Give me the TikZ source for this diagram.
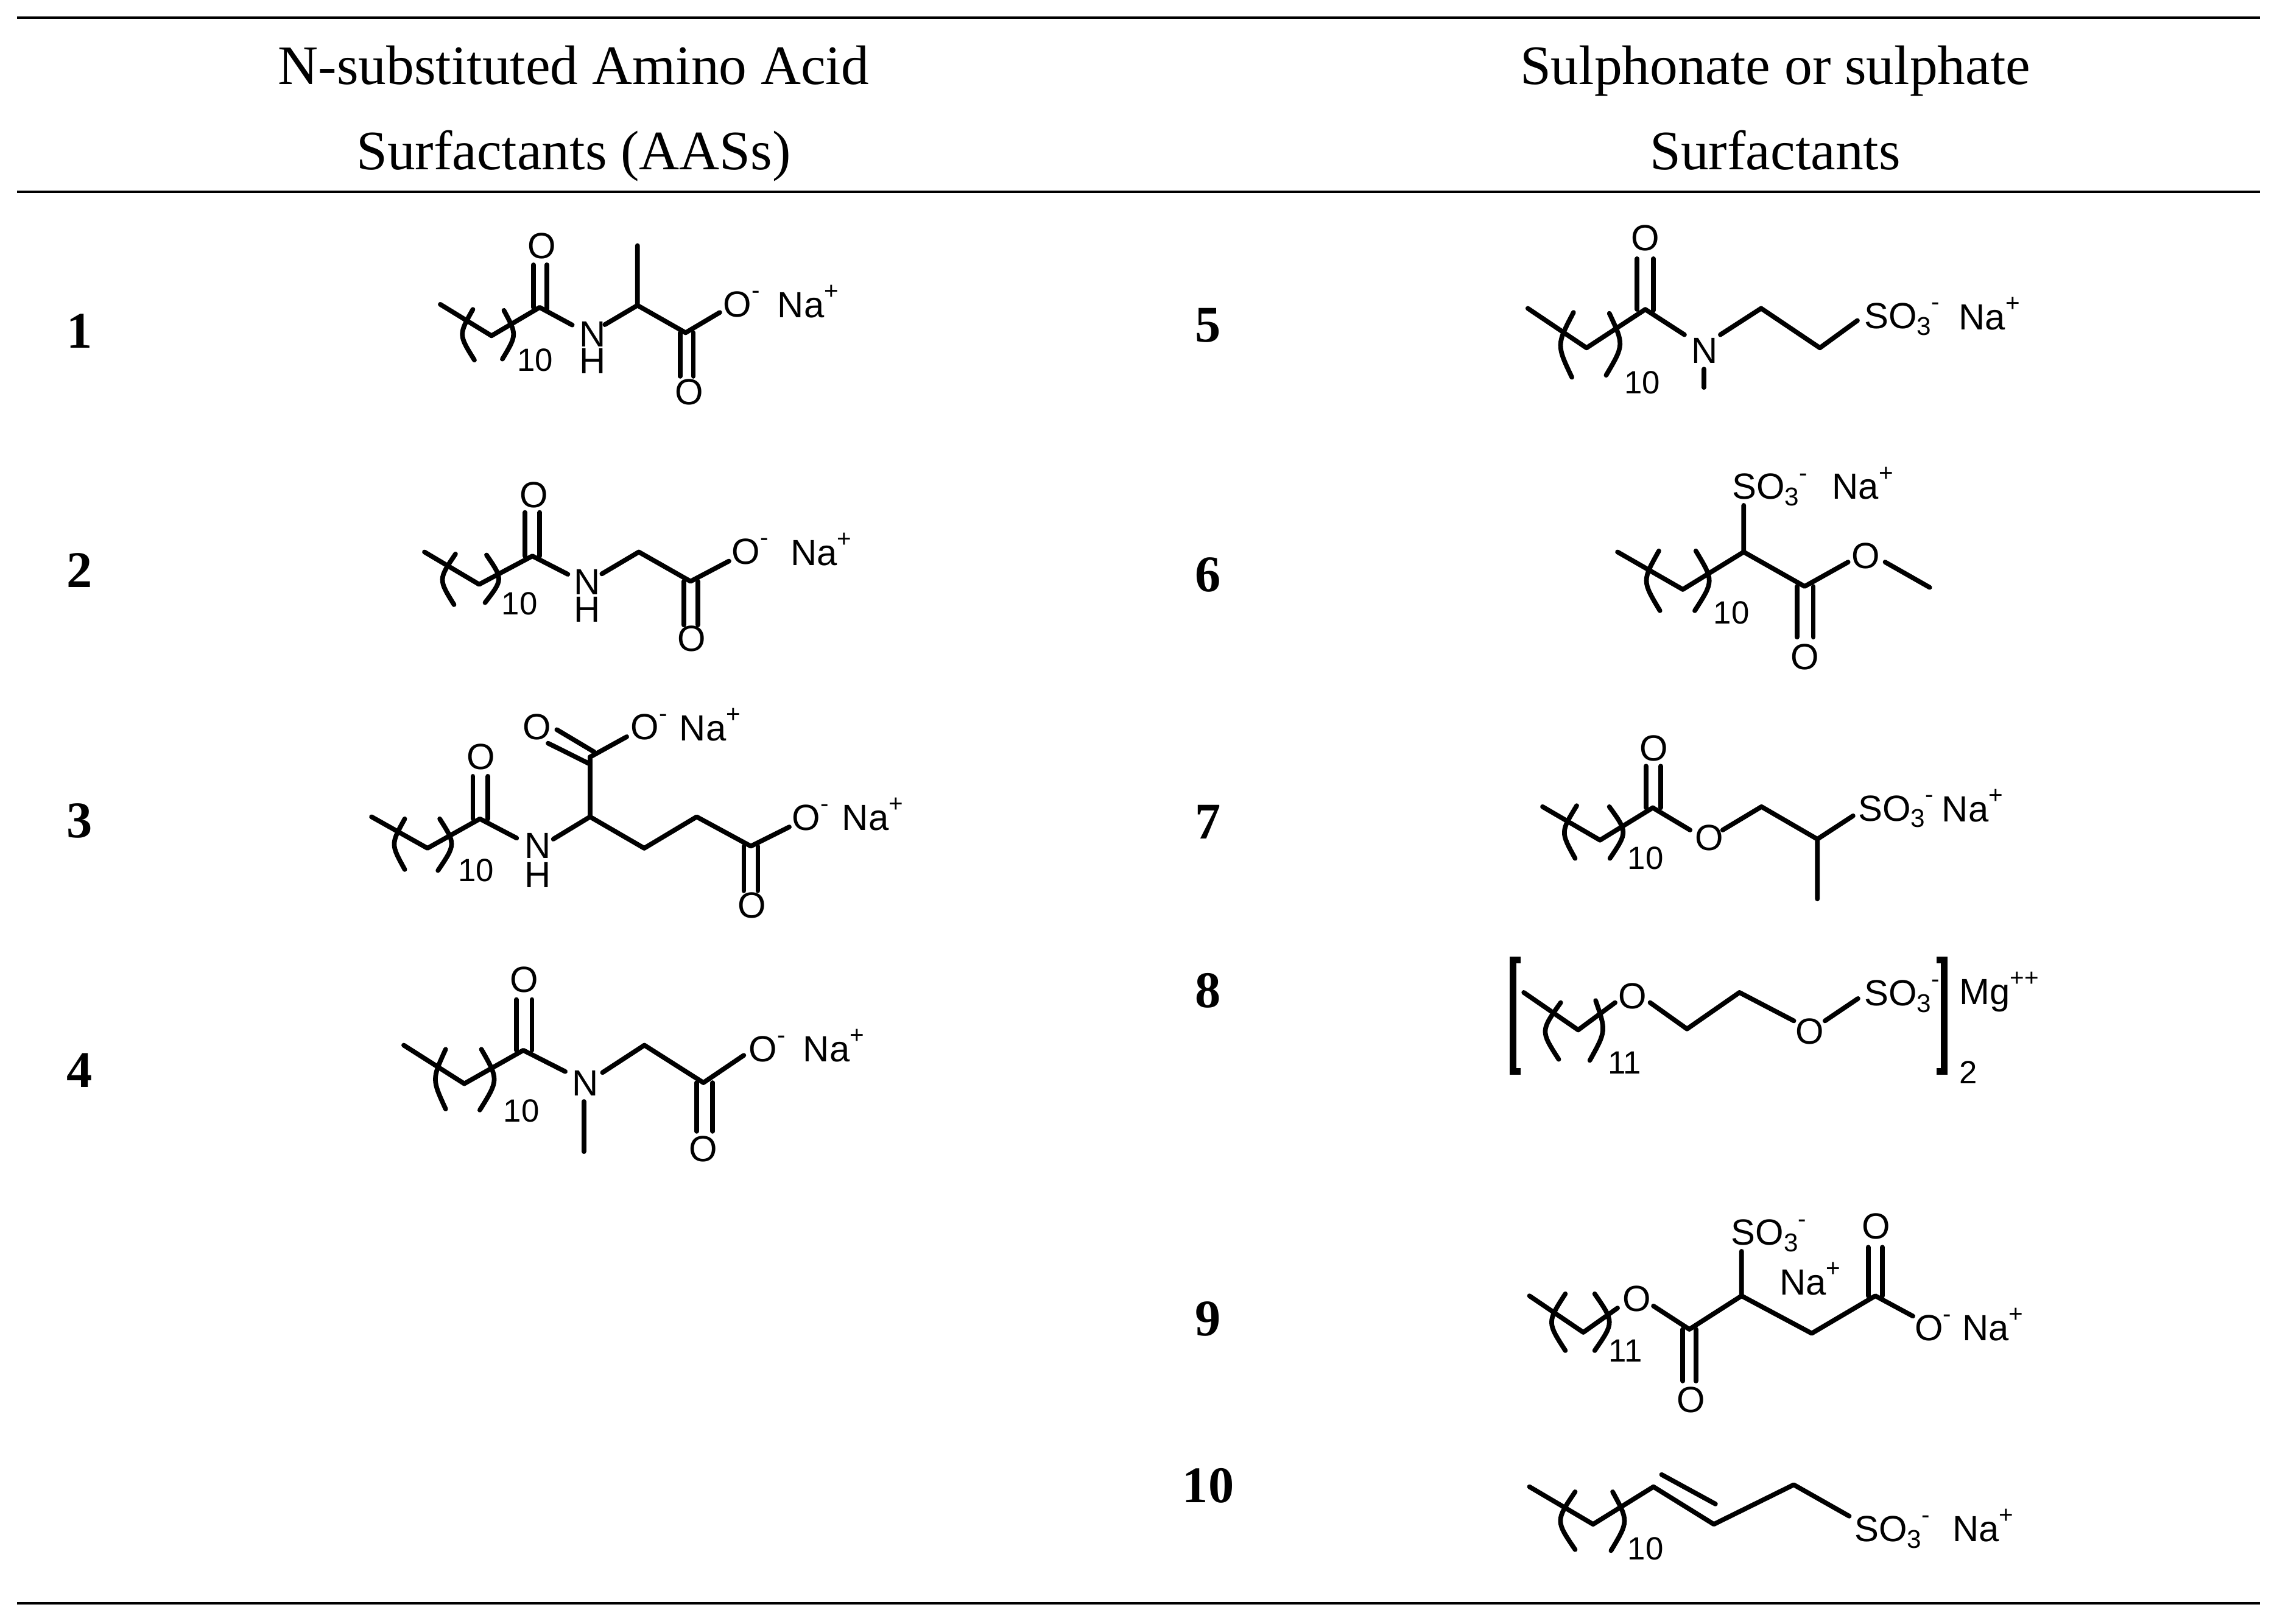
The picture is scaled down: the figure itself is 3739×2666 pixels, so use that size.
\documentclass[tikz,border=0pt]{standalone}
\usepackage{fontspec}
\setmainfont{Liberation Serif}
\newfontfamily\arialf{Liberation Sans}
\newcommand\chemf{\arialf\fontsize{17}{17}\selectfont}
\newcommand\idxf{\arialf\fontsize{15}{15}\selectfont}
\newcommand\chsup[1]{\raisebox{8.5pt}{\fontsize{11.5}{11.5}\selectfont #1}}
\newcommand\chsub[1]{\raisebox{-3pt}{\fontsize{12}{12}\selectfont #1}}
\newcommand\lab[4]{\node[lbl] (#1) at (#2,#3) {#4};}
\newcommand\idx[4]{\node[lbl,font=\idxf] (#1) at (#2,#3) {#4};}
\tikzset{
  lbl/.style={anchor=base west,inner sep=0pt,font=\chemf},
  bond/.style={line width=2.2pt,line cap=round,line join=round},
  rule/.style={line width=1.3pt},
  head/.style={font=\fontsize{26}{26}\selectfont,inner sep=0pt,anchor=base},
  num/.style={font=\bfseries\fontsize{24}{24}\selectfont,inner sep=0pt}
}
\begin{document}
\begin{tikzpicture}[x=0.01cm,y=-0.01cm]
\useasboundingbox (0,0) rectangle (3739,2666);
% rules
\draw[rule] (28,29) -- (3711,29);
\draw[rule] (28,315) -- (3711,315);
\draw[rule] (28,2633) -- (3711,2633);
% headers
\node[head] (h1) at (942,138) {N-substituted Amino Acid};
\node[head] (h2) at (942,278) {Surfactants (AASs)};
\node[head] (h3) at (2915,138) {Sulphonate or sulphate};
\node[head] (h4) at (2915,278) {Surfactants};
% numbers
\node[num] (n1) at (131,544) {1};
\node[num] (n2) at (131,937) {2};
\node[num] (n3) at (131,1348) {3};
\node[num] (n4) at (131,1758) {4};
\node[num] (n5) at (1984,534) {5};
\node[num] (n6) at (1984,944) {6};
\node[num] (n7) at (1984,1350) {7};
\node[num] (n8) at (1984,1627) {8};
\node[num] (n9) at (1984,2166) {9};
\node[num] (n10) at (1984,2440) {10};

% ---- molecule 1
\begin{scope}[shift={(700,380)},x=0.005102cm,y=-0.003333cm]
\draw[bond] (45,360) -- (210,515) -- (365,375) -- (470,462);
\draw[bond] (345,165) -- (345,375) (388,165) -- (388,385);
\draw[bond] (575,460) -- (680,365) -- (680,70) (680,365) -- (835,500) -- (945,400);
\draw[bond] (818,500) -- (818,715) (860,500) -- (860,715);
\draw[bond] (150,385) .. controls (104,510) .. (155,635);
\draw[bond] (250,390) .. controls (292,510) .. (245,630);
\lab{a1}{325}{135}{O}
\lab{a2}{492}{568}{N}
\lab{a3}{492}{703}{H}
\lab{a4}{800}{855}{O}
\lab{a5}{955}{422}{O\chsup{-}}
\lab{a6}{1130}{425}{Na\chsup{+}}
\idx{a7}{292}{690}{10}
\end{scope}

% ---- molecule 2
\begin{scope}[shift={(680,780)},x=0.004847cm,y=-0.003333cm]
\draw[bond] (35,380) -- (220,540) -- (400,400) -- (520,490);
\draw[bond] (375,185) -- (375,400) (425,185) -- (425,400);
\draw[bond] (635,488) -- (760,380) -- (935,525) -- (1065,425);
\draw[bond] (912,525) -- (912,740) (960,525) -- (960,740);
\draw[bond] (140,390) .. controls (82,515) .. (135,640);
\draw[bond] (245,395) .. controls (301,515) .. (240,630);
\lab{b1}{355}{160}{O}
\lab{b2}{540}{590}{N}
\lab{b3}{540}{725}{H}
\lab{b4}{890}{870}{O}
\lab{b5}{1073}{440}{O\chsup{-}}
\lab{b6}{1272}{445}{Na\chsup{+}}
\idx{b7}{295}{690}{10}
\end{scope}

% ---- molecule 3
\begin{scope}[shift={(590,1160)},x=0.00574cm,y=-0.003333cm]
\draw[bond] (35,545) -- (195,700) -- (345,555) -- (450,650);
\draw[bond] (325,345) -- (325,555) (368,345) -- (368,555);
\draw[bond] (555,655) -- (660,545) -- (660,250);
\draw[bond] (565,115) -- (672,225) (540,182) -- (660,285);
\draw[bond] (660,250) -- (765,150);
\draw[bond] (660,545) -- (815,700) -- (965,545) -- (1120,690) -- (1230,595);
\draw[bond] (1100,690) -- (1100,910) (1140,690) -- (1140,910);
\draw[bond] (130,555) .. controls (90,680) .. (130,805);
\draw[bond] (230,555) .. controls (276,680) .. (225,810);
\lab{c1}{307}{310}{O}
\lab{c2}{472}{750}{N}
\lab{c3}{472}{895}{H}
\lab{c4}{467}{165}{O}
\lab{c5}{775}{165}{O\chsup{-}}
\lab{c6}{915}{170}{Na\chsup{+}}
\lab{c7}{1237}{610}{O\chsup{-}}
\lab{c8}{1380}{610}{Na\chsup{+}}
\lab{c9}{1082}{1045}{O}
\idx{c10}{282}{865}{10}
\end{scope}

% ---- molecule 4
\begin{scope}[shift={(640,1580)},x=0.005102cm,y=-0.003333cm]
\draw[bond] (45,410) -- (240,600) -- (430,435) -- (565,540);
\draw[bond] (408,185) -- (408,435) (458,185) -- (458,435);
\draw[bond] (625,688) -- (625,935);
\draw[bond] (685,545) -- (820,410) -- (1010,595) -- (1140,460);
\draw[bond] (988,595) -- (988,835) (1040,595) -- (1040,835);
\draw[bond] (180,430) .. controls (136,578) .. (180,725);
\draw[bond] (295,430) .. controls (351,580) .. (290,730);
\lab{d1}{385}{150}{O}
\lab{d2}{585}{660}{N}
\lab{d3}{963}{985}{O}
\lab{d4}{1155}{490}{O\chsup{-}}
\lab{d5}{1330}{490}{Na\chsup{+}}
\idx{d6}{365}{790}{10}
\end{scope}

% ---- molecule 5
\begin{scope}[shift={(2490,350)},x=0.005357cm,y=-0.003333cm]
\draw[bond] (35,470) -- (215,665) -- (395,475) -- (515,600);
\draw[bond] (370,225) -- (370,475) (420,225) -- (420,480);
\draw[bond] (575,770) -- (575,860);
\draw[bond] (625,600) -- (750,470) -- (930,665) -- (1045,530);
\draw[bond] (175,490) .. controls (123,650) .. (170,810);
\draw[bond] (285,495) .. controls (330,650) .. (275,800);
\lab{e1}{350}{185}{O}
\lab{e2}{535}{740}{N}
\lab{e3}{1065}{570}{SO\chsub{3}\chsup{-}}
\lab{e4}{1355}{575}{Na\chsup{+}}
\idx{e5}{330}{890}{10}
\end{scope}

% ---- molecule 6
\begin{scope}[shift={(2640,760)},x=0.003571cm,y=-0.003333cm]
\draw[bond] (45,440) -- (345,625) -- (625,440) -- (625,210);
\draw[bond] (625,440) -- (905,610) -- (1105,490);
\draw[bond] (870,610) -- (870,860) (945,610) -- (945,860);
\draw[bond] (1275,490) -- (1480,615);
\draw[bond] (235,435) .. controls (158,583) .. (240,730);
\draw[bond] (405,435) .. controls (488,583) .. (400,730);
\lab{f1}{570}{180}{SO\chsub{3}\chsup{-}}
\lab{f2}{1030}{180}{Na\chsup{+}}
\lab{f3}{840}{1020}{O}
\lab{f4}{1120}{520}{O}
\idx{f5}{485}{795}{10}
\end{scope}

% ---- molecule 7
\begin{scope}[shift={(2510,1200)},x=0.005102cm,y=-0.003333cm]
\draw[bond] (45,375) -- (230,540) -- (400,380) -- (520,490);
\draw[bond] (378,175) -- (378,380) (425,175) -- (425,380);
\draw[bond] (625,490) -- (750,375) -- (930,535) -- (1045,420) (930,535) -- (930,830);
\draw[bond] (155,370) .. controls (103,500) .. (150,630);
\draw[bond] (260,375) .. controls (319,500) .. (262,630);
\lab{g1}{357}{150}{O}
\lab{g2}{535}{590}{O}
\lab{g3}{1060}{445}{SO\chsub{3}\chsup{-}}
\lab{g4}{1330}{450}{Na\chsup{+}}
\idx{g5}{318}{685}{10}
\end{scope}

% ---- molecule 8
\begin{scope}[shift={(2400,1550)},x=0.006378cm,y=-0.003333cm]
\draw[line width=3pt] (152,80) -- (132,80) -- (132,630) -- (152,630);
\draw[line width=3pt] (1222,80) -- (1242,80) -- (1242,630) -- (1222,630);
\draw[bond] (160,240) -- (300,425) -- (395,290);
\draw[bond] (485,290) -- (580,420) -- (715,240) -- (855,380);
\draw[bond] (935,380) -- (1020,270);
\draw[bond] (255,290) .. controls (203,430) .. (250,570);
\draw[bond] (345,280) .. controls (372,430) .. (330,575);
\lab{k1}{402}{320}{O}
\lab{k2}{858}{495}{O}
\lab{k3}{1035}{305}{SO\chsub{3}\chsup{-}}
\lab{k4}{1280}{300}{Mg\chsup{++}}
\idx{k5}{375}{640}{11}
\idx{k6}{1280}{690}{2}
\end{scope}

% ---- molecule 9
\begin{scope}[shift={(2490,1980)},x=0.005357cm,y=-0.003333cm]
\draw[bond] (40,445) -- (205,625) -- (310,505);
\draw[bond] (420,495) -- (530,610) -- (690,445) -- (690,225);
\draw[bond] (510,610) -- (510,865) (550,610) -- (550,865);
\draw[bond] (690,445) -- (905,630) -- (1100,445) -- (1215,545);
\draw[bond] (1078,205) -- (1078,445) (1122,205) -- (1122,445);
\draw[bond] (150,435) .. controls (94,575) .. (150,715);
\draw[bond] (240,435) .. controls (300,575) .. (240,715);
\lab{m1}{325}{520}{O}
\lab{m2}{490}{1020}{O}
\lab{m3}{657}{195}{SO\chsub{3}\chsup{-}}
\lab{m4}{805}{440}{Na\chsup{+}}
\lab{m5}{1057}{165}{O}
\lab{m6}{1220}{665}{O\chsup{-}}
\lab{m7}{1365}{665}{Na\chsup{+}}
\idx{m8}{282}{770}{11}
\end{scope}

% ---- molecule 10
\begin{scope}[shift={(2490,2400)},x=0.005357cm,y=-0.003333cm]
\draw[bond] (40,125) -- (235,310) -- (420,125) -- (605,310) -- (850,115) -- (1020,270);
\draw[bond] (445,65) -- (610,210);
\draw[bond] (180,150) .. controls (120,293) .. (180,435);
\draw[bond] (295,150) .. controls (344,295) .. (290,440);
\lab{p1}{1035}{395}{SO\chsub{3}\chsup{-}}
\lab{p2}{1335}{395}{Na\chsup{+}}
\idx{p3}{340}{485}{10}
\end{scope}
\end{tikzpicture}
\end{document}
